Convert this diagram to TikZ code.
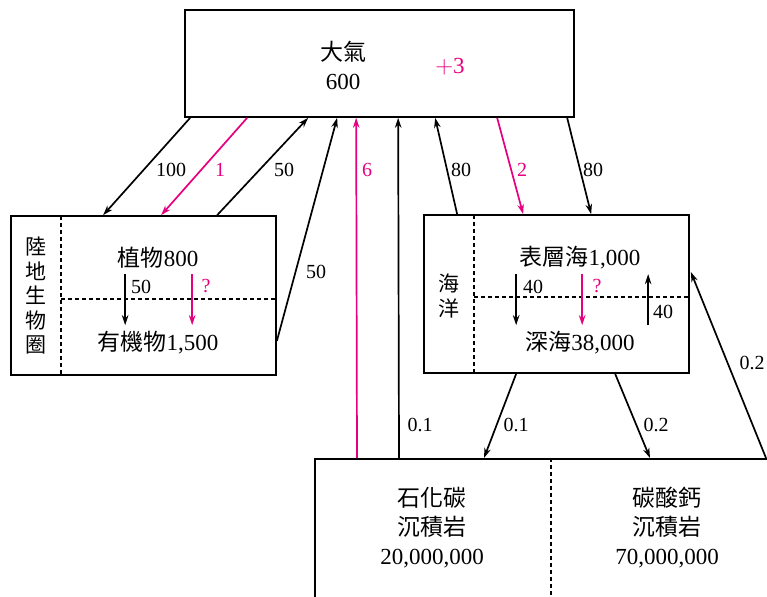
\documentclass[tikz,border=0pt]{standalone}
\usepackage{fontspec}
\setmainfont{Liberation Serif}
\newfontfamily\cjk{Noto Sans CJK TC}
\usetikzlibrary{arrows.meta,calc}
\definecolor{mag}{RGB}{230,0,126}
\newcommand\zh[1]{{\cjk #1}}
\begin{document}
\begin{tikzpicture}[x=1pt,y=-1pt,
  box/.style={draw,line width=1.7pt,inner sep=0pt},
  conn/.style={line width=1.7pt,-{Stealth[length=10pt,width=6.5pt]}},
  mconn/.style={conn,draw=mag},
  dsh/.style={line width=1.4pt,dash pattern=on 4pt off 3pt},
  main/.style={font=\fontsize{23}{29}\selectfont,align=center,inner sep=0pt},
  vert/.style={font=\cjk\fontsize{21}{24.5}\selectfont,align=center,inner sep=0pt},
  lab/.style={font=\fontsize{20}{22}\selectfont,inner sep=0pt},
  mlab/.style={lab,text=mag}]
\clip (0,0) rectangle (767,596);
\useasboundingbox (0,0) rectangle (767,596);
% boxes
\node[box,minimum width=389pt,minimum height=107pt] (atm) at (379.5,63.5) {};
\node[box,minimum width=265pt,minimum height=159pt] (land) at (143.5,295.5) {};
\node[box,minimum width=265pt,minimum height=158pt] (ocean) at (556.5,294) {};
\node[box,minimum width=480pt,minimum height=200pt,anchor=north west] (rock) at (314,458) {};
% dashed separators
\draw[dsh] (61,216) -- (61,375);
\draw[dsh] (61,299) -- (276,299);
\draw[dsh] (474,215) -- (474,373);
\draw[dsh] (474,297) -- (689,297);
\draw[dsh] (551,458) -- (551,596);
% texts
\node[main] (atmT) at (343,65) {\zh{大氣}\\600};
\node[main,text=mag] (plus) at (450,67) {$+$3};
\node[vert] (landT) at (36,296) {陸\\地\\生\\物\\圈};
\node[main] (plant) at (158,258) {\zh{植物}800};
\node[main] (org) at (158,343) {\zh{有機物}1,500};
\node[vert] (oceanT) at (449,296) {海\\洋};
\node[main] (surf) at (580,258) {\zh{表層海}1,000};
\node[main] (deep) at (580,343) {\zh{深海}38,000};
\node[main] (fos) at (432,528) {\zh{石化碳}\\\zh{沉積岩}\\20,000,000};
\node[main] (carb) at (667,528) {\zh{碳酸鈣}\\\zh{沉積岩}\\70,000,000};
% connectors between boxes
\coordinate (A) at (atm.south west);
\coordinate (L) at (land.north west);
\coordinate (O) at (ocean.north west);
\coordinate (OS) at (ocean.south west);
\coordinate (R) at (rock.north west);
\draw[conn] ($(A)+(6,0)$) -- ($(L)+(93,0)$);
\draw[mconn] ($(A)+(63,0)$) -- ($(L)+(151,0)$);
\draw[conn] ($(L)+(207,0)$) -- ($(A)+(124,0)$);
\draw[conn] ($(land.east)+(0,45.5)$) -- ($(A)+(153,0)$);
\draw[mconn] ($(R)+(43,0)$) -- ($(A)+(172,0)$);
\draw[conn] ($(R)+(85,0)$) -- ($(A)+(214,0)$);
\draw[conn] ($(O)+(34,0)$) -- ($(A)+(251,0)$);
\draw[mconn] ($(A)+(313,0)$) -- ($(O)+(100,0)$);
\draw[conn] ($(A)+(383,0)$) -- ($(O)+(168,0)$);
\draw[conn] ($(OS)+(93,0)$) -- ($(R)+(170,0)$);
\draw[conn] ($(OS)+(192,0)$) -- ($(R)+(336,0)$);
\draw[conn] ($(R)+(452,0)$) -- ($(ocean.east)+(1,-22)$);
% inner arrows
\draw[conn] ($(L)+(115,59)$) -- ($(L)+(115,110)$);
\draw[mconn] ($(L)+(182,59)$) -- ($(L)+(182,110)$);
\draw[conn] ($(O)+(93,60)$) -- ($(O)+(93,111)$);
\draw[mconn] ($(O)+(159,60)$) -- ($(O)+(159,111)$);
\draw[conn] ($(O)+(225,111)$) -- ($(O)+(225,60)$);
% labels
\node[lab] (l1) at (171,170) {100};
\node[mlab] (l2) at (220,170) {1};
\node[lab] (l3) at (284,170) {50};
\node[lab] (l4) at (316,272) {50};
\node[mlab] (l5) at (367,170) {6};
\node[lab] (l6) at (420,425) {0.1};
\node[lab] (l7) at (461,170) {80};
\node[mlab] (l8) at (522,170) {2};
\node[lab] (l9) at (593,170) {80};
\node[lab] (l10) at (516,425) {0.1};
\node[lab] (l11) at (656,425) {0.2};
\node[lab] (l12) at (752,363) {0.2};
\node[lab] (l13) at (141,287) {50};
\node[mlab] (l14) at (206,286) {?};
\node[lab] (l15) at (533,287) {40};
\node[mlab] (l16) at (597,286) {?};
\node[lab] (l17) at (663,312) {40};
\end{tikzpicture}
\end{document}
